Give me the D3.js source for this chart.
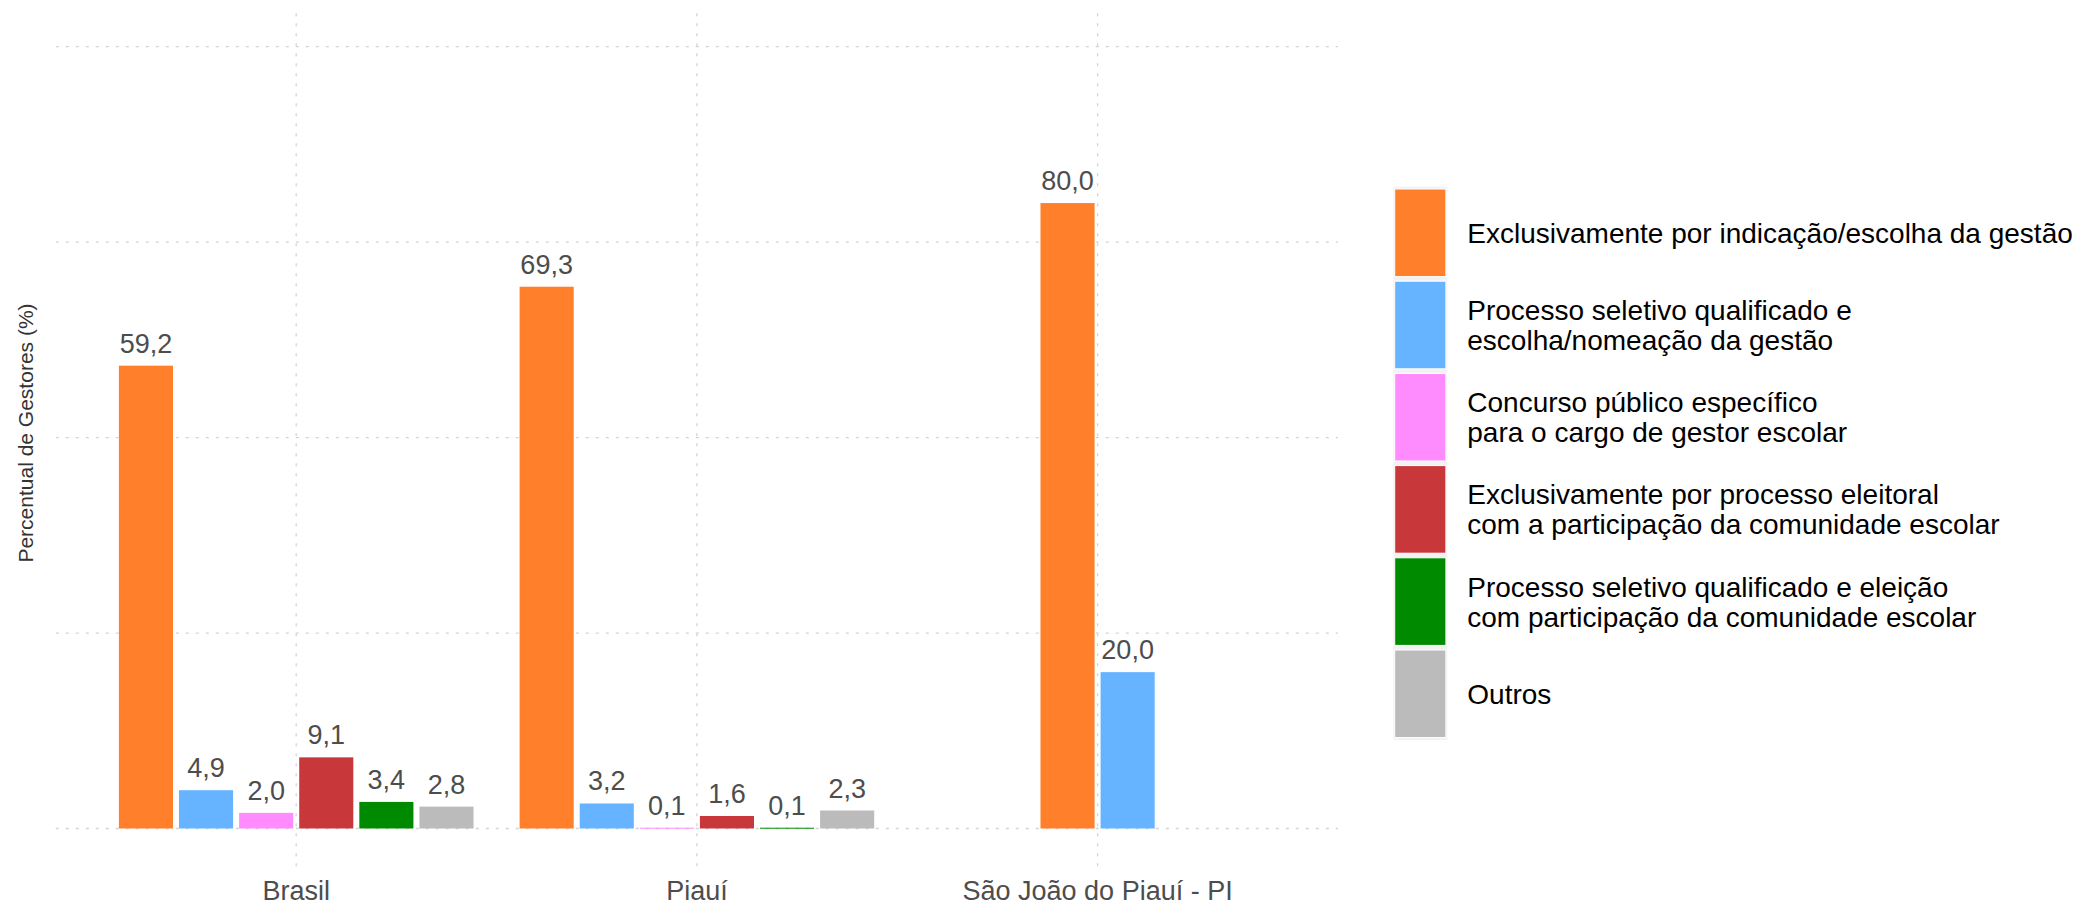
<!DOCTYPE html>
<html>
<head>
<meta charset="utf-8">
<script src="https://cdn.jsdelivr.net/npm/d3@7"></script>
<style>
    body { margin: 0; background: #fff; }
    svg text { font-family: "Liberation Sans", Arial, Helvetica, sans-serif; }
</style>
</head>
<body>
<svg id="chart"></svg>
<script>
/**
 * Forma de provimento do cargo de gestor escolar
 * grouped bars, one group per territory
 */

let width = 2093,
    height = 907;

let categories = ['Brasil', 'Piauí', 'São João do Piauí - PI'];

let seriesNames = [
    ['Exclusivamente por indicação/escolha da gestão'],
    ['Processo seletivo qualificado e', 'escolha/nomeação da gestão'],
    ['Concurso público específico', 'para o cargo de gestor escolar'],
    ['Exclusivamente por processo eleitoral', 'com a participação da comunidade escolar'],
    ['Processo seletivo qualificado e eleição', 'com participação da comunidade escolar'],
    ['Outros']
];

let seriesColors = ['#FF7F2A', '#66B3FF', '#FF8CFF', '#C8373A', '#008A00', '#BBBBBB'];

// values per series, in the order of categories (null = no data)
let indicacao       = [59.2, 69.3, 80.0];
let seletivoEscolha = [4.9, 3.2, 20.0];
let concurso        = [2.0, 0.1, null];
let eleitoral       = [9.1, 1.6, null];
let seletivoEleicao = [3.4, 0.1, null];
let outros          = [2.8, 2.3, null];

let seriesValues = [indicacao, seletivoEscolha, concurso, eleitoral, seletivoEleicao, outros];

let yTicks = [0, 25, 50, 75, 100];

let panel = { left: 55.8, right: 1338, top: 13.3, bottom: 866.7 };

let svg = d3.select("svg#chart")
    .attr("width", width)
    .attr("height", height);

let x = d3.scalePoint()
    .domain(categories)
    .range([panel.left, panel.right])
    .padding(0.6);

let y = d3.scaleLinear()
    .domain([0, 100])
    .range([828.5, 46.7]);

let slot = x.step() * 0.9 / seriesNames.length;
let barWidth = slot * 0.9;

// grid
svg.append("g")
    .selectAll("line")
    .data(yTicks)
    .enter()
    .append("line")
    .attr("x1", panel.left)
    .attr("x2", panel.right)
    .attr("y1", d => y(d))
    .attr("y2", d => y(d))
    .attr("stroke", "#d4d4d4")
    .attr("stroke-width", 1.3)
    .attr("stroke-dasharray", "3,7");

svg.append("g")
    .selectAll("line")
    .data(categories)
    .enter()
    .append("line")
    .attr("x1", d => x(d))
    .attr("x2", d => x(d))
    .attr("y1", panel.top)
    .attr("y2", panel.bottom)
    .attr("stroke", "#d4d4d4")
    .attr("stroke-width", 1.3)
    .attr("stroke-dasharray", "3,7");

// bars: bars present in a group are centred on the category (dodge, preserve single)
let bars = [];
categories.forEach(function (cat, ci) {
    let present = [];
    for (let s = 0; s < seriesValues.length; s++) {
        if (seriesValues[s][ci] !== null) {
            present.push(s);
        }
    }
    present.forEach(function (s, j) {
        bars.push({
            cat: cat,
            series: s,
            value: seriesValues[s][ci],
            cx: x(cat) + (j - (present.length - 1) / 2) * slot
        });
    });
});

let fmt = d3.format(".1f");

svg.append("g")
    .selectAll("rect")
    .data(bars)
    .enter()
    .append("rect")
    .attr("x", d => d.cx - barWidth / 2)
    .attr("width", barWidth)
    .attr("y", d => y(d.value))
    .attr("height", d => Math.max(1, y(0) - y(d.value)))
    .attr("fill", d => seriesColors[d.series]);

svg.append("g")
    .selectAll("text")
    .data(bars)
    .enter()
    .append("text")
    .attr("x", d => d.cx)
    .attr("y", d => y(d.value) - 13)
    .attr("text-anchor", "middle")
    .attr("font-size", 27)
    .attr("fill", "#4d4d4d")
    .text(d => fmt(d.value).replace(".", ","));

// category axis labels
svg.append("g")
    .selectAll("text")
    .data(categories)
    .enter()
    .append("text")
    .attr("x", d => x(d))
    .attr("y", 900)
    .attr("text-anchor", "middle")
    .attr("font-size", 27)
    .attr("fill", "#4d4d4d")
    .text(d => d);

// y title
svg.append("text")
    .attr("transform", "translate(33, 433) rotate(-90)")
    .attr("text-anchor", "middle")
    .attr("font-size", 21)
    .attr("fill", "#333")
    .text("Percentual de Gestores (%)");

// legend
let keyPitch = 92.2;
let legend = svg.append("g").attr("transform", "translate(1393.3, 186.7)");

legend.append("rect")
    .attr("width", 54)
    .attr("height", keyPitch * seriesNames.length)
    .attr("fill", "#f2f2f2");

let items = legend.selectAll("g.item")
    .data(seriesNames)
    .enter()
    .append("g")
    .attr("class", "item")
    .attr("transform", (d, i) => `translate(0, ${i * keyPitch})`);

items.append("rect")
    .attr("x", 1.4)
    .attr("y", 2.3)
    .attr("width", 51.2)
    .attr("height", keyPitch - 4.6)
    .attr("fill", (d, i) => seriesColors[i])
    .attr("stroke", "#fff")
    .attr("stroke-width", 1);

items.each(function (lines) {
    let t = d3.select(this).append("text")
        .attr("font-size", 28)
        .attr("fill", "#000");
    let lineHeight = 30;
    let first = keyPitch / 2 + 10 - (lines.length - 1) * lineHeight / 2;
    lines.forEach(function (line, k) {
        t.append("tspan")
            .attr("x", 74)
            .attr("y", first + k * lineHeight)
            .text(line);
    });
});
</script>
</body>
</html>
